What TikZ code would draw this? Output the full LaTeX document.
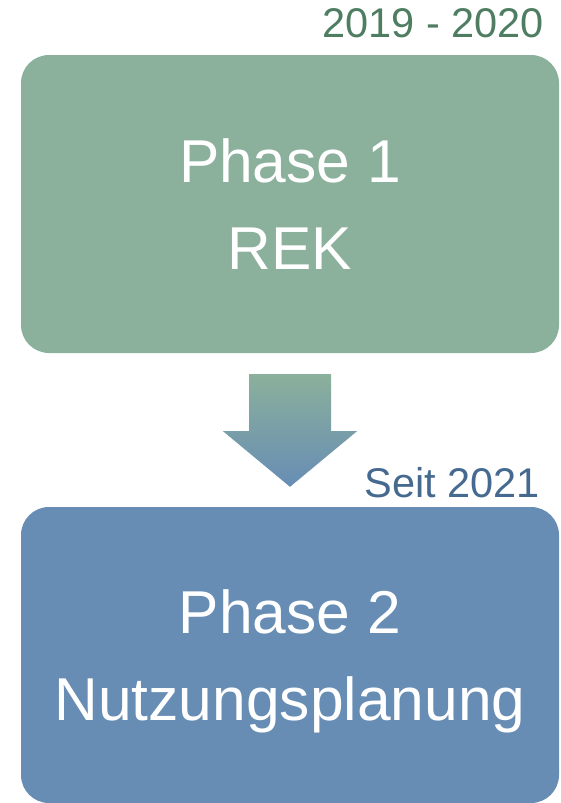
\documentclass[tikz,border=0pt]{standalone}
\usepackage{fontspec}
\setmainfont{Liberation Sans}
\usetikzlibrary{positioning,calc}
\definecolor{phasegreen}{HTML}{8BB09B}
\definecolor{phaseblue}{HTML}{678DB5}
\definecolor{yeargreen}{HTML}{4E7D62}
\definecolor{yearblue}{HTML}{45698F}
\tikzset{
  phasebox/.style={rectangle,rounded corners=28pt,minimum width=538pt,inner sep=0pt,align=center,text=white,font=\fontsize{60.5}{87}\selectfont},
  years/.style={inner sep=0pt,anchor=base east,font=\fontsize{41.5}{48}\selectfont}
}

\begin{document}
\begin{tikzpicture}[x=1pt,y=1pt]
\useasboundingbox (0,0) rectangle (560,-803);

\node[phasebox,fill=phasegreen,minimum height=298pt] (rek) at (290,-204) {Phase 1\\REK};
\node[phasebox,fill=phaseblue,minimum height=296pt] (nutz) at (290,-655) {Phase 2\\\smash{Nutzungsplanung}};

\node[years,text=yeargreen] (yearrek) at ($(rek.north east)+(-15,17)$) {2019 - 2020};
\node[years,text=yearblue] (yearnutz) at ($(nutz.north east)+(-19,9)$) {Seit 2021};

% block arrow between the phases
\shade[top color=phasegreen,bottom color=phaseblue]
  ($(rek.south)+(-41,-21)$) -- ($(rek.south)+(41,-21)$) -- ($(rek.south)+(41,-78)$)
  -- ($(rek.south)+(67,-78)$) -- ($(nutz.north)+(0,20)$) -- ($(rek.south)+(-67,-78)$)
  -- ($(rek.south)+(-41,-78)$) -- cycle;

\end{tikzpicture}
\end{document}
